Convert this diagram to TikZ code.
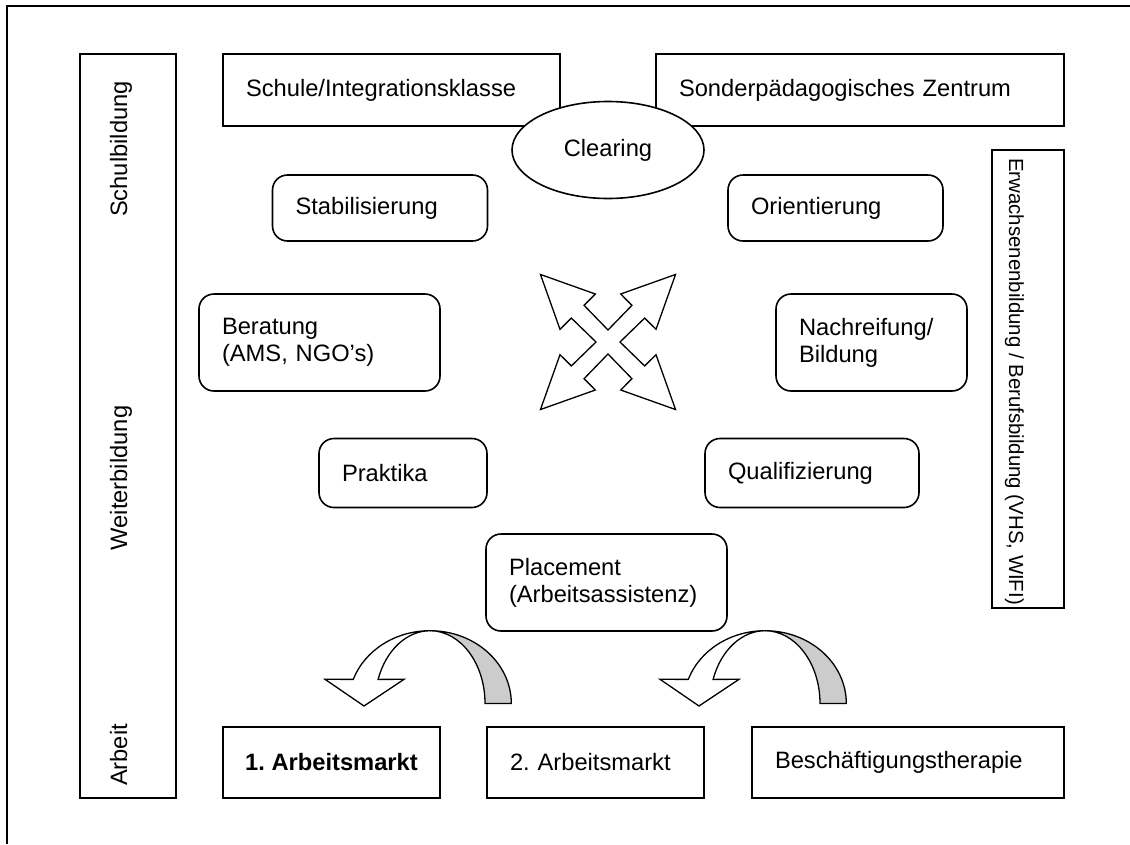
\documentclass[tikz,border=0pt]{standalone}
\usepackage{fontspec}
\setmainfont{Liberation Sans}
\usetikzlibrary{shapes.geometric}
\frenchspacing
\begin{document}
\begin{tikzpicture}[x=1pt,y=-1pt,
  txt/.style={font=\fontsize{23.7}{27}\selectfont},
  sqbox/.style={txt, draw, line width=1.6pt, fill=white, inner xsep=23pt, inner ysep=0pt, align=left},
  rbox/.style={sqbox, rounded corners=15pt},
  vbox/.style={draw, line width=1.6pt, fill=white, inner sep=0pt},
  vtxt/.style={txt, inner sep=0pt},
  shape4/.style={draw, line width=1.3pt, fill=white, line join=miter},
  bandgray/.style={draw, line width=1.3pt, fill=black!20},
  bandwhite/.style={draw, line width=1.3pt, fill=white}
]
\useasboundingbox (0,0) rectangle (1130,844);
% outer frame (top and left edge)
\draw[line width=1.7pt] (1130,6) -- (7,6) -- (7,844);

% vertical side boxes
\node[vbox, minimum width=96pt, minimum height=744pt] (left) at (128,426) {};
\node[vtxt, rotate=90, anchor=base] (schulb) at (127,149) {Schulbildung};
\node[vtxt, rotate=90, anchor=base] (weiterb) at (127,478) {Weiterbildung};
\node[vtxt, rotate=90, anchor=base] (arbeit) at (127,755) {Arbeit};

\node[vbox, minimum width=72pt, minimum height=458pt] (right) at (1028,379) {};
\node[inner sep=0pt, font=\fontsize{20.4}{24}\selectfont, rotate=-90, anchor=base west] (erw) at (1009,158)
  {Erwachsenenbildung / Berufsbildung (VHS, WIFI)};

% top boxes
\node[sqbox, minimum height=72pt, text width=291pt] (schule) at (391.5,90) {Schule/Integrationsklasse};
\node[sqbox, minimum height=72pt, text width=362pt] (sonder) at (860,90) {Sonderpädagogisches Zentrum};
\node[txt, draw, line width=1.6pt, fill=white, ellipse, minimum width=192pt, minimum height=97pt, inner sep=0pt] (clearing) at (608,150) {Clearing};

% rounded boxes
\node[rbox, minimum height=66pt, text width=169pt] (stab) at (380,208) {Stabilisierung};
\node[rbox, minimum height=66pt, text width=169pt] (orient) at (835.5,208) {Orientierung};
\node[rbox, minimum height=97pt, text width=195pt] (berat) at (319.5,342.5) {Beratung\\(AMS, NGO’s)};
\node[rbox, minimum height=97pt, text width=145pt] (nach) at (871.5,342.5) {Nachreifung/\\Bildung};
\node[rbox, minimum height=69pt, text width=122pt] (prakt) at (403,473) {Praktika};
\node[rbox, minimum height=69pt, text width=168pt] (qual) at (812,473) {Qualifizierung};
\node[rbox, minimum height=97pt, text width=195pt] (place) at (606.5,582.5) {Placement\\(Arbeitsassistenz)};

% bottom boxes
\node[sqbox, inner xsep=0pt, minimum width=217pt, minimum height=71pt, font=\fontsize{23.7}{27}\selectfont\bfseries] (arb1) at (331.5,762.5) {1. Arbeitsmarkt};
\node[sqbox, minimum height=71pt, text width=171pt] (arb2) at (595.5,762.5) {2. Arbeitsmarkt};
\node[sqbox, minimum height=71pt, text width=266pt] (besch) at (908,762.5) {Beschäftigungstherapie};

% four-way arrow
\coordinate (c4) at (608,342);
\begin{scope}[shift={(c4)}]
\draw[shape4]
  (0:12) -- (33.15:43.8) -- (14.8:49.65) -- (45:95.5) -- (75.2:49.65) -- (56.85:43.8)
  -- (90:12) -- (123.15:43.8) -- (104.8:49.65) -- (135:95.5) -- (165.2:49.65) -- (146.85:43.8)
  -- (180:12) -- (213.15:43.8) -- (194.8:49.65) -- (225:95.5) -- (255.2:49.65) -- (236.85:43.8)
  -- (270:12) -- (303.15:43.8) -- (284.8:49.65) -- (315:95.5) -- (345.2:49.65) -- (326.85:43.8)
  -- cycle;
\end{scope}

% curved arrows
\foreach \dx/\nm in {0/ca, 335/cb}{
\begin{scope}[xshift=\dx pt]
\coordinate (\nm top) at (430,630.7);
\draw[bandgray] (\nm top) arc[start angle=90, end angle=0, x radius=81.3pt, y radius=72.7pt]
  -- (485,703.4) arc[start angle=0, end angle=90, x radius=55pt, y radius=72.7pt] -- cycle;
\draw[bandwhite] (\nm top) arc[start angle=90, end angle=160.7, x radius=81.3pt, y radius=72.7pt]
  -- (325,679.3) -- (364,706) -- (404,679.3) -- (378.1,679.4)
  arc[start angle=160.7, end angle=90, x radius=55pt, y radius=72.7pt] -- cycle;
\end{scope}
}
\end{tikzpicture}
\end{document}
